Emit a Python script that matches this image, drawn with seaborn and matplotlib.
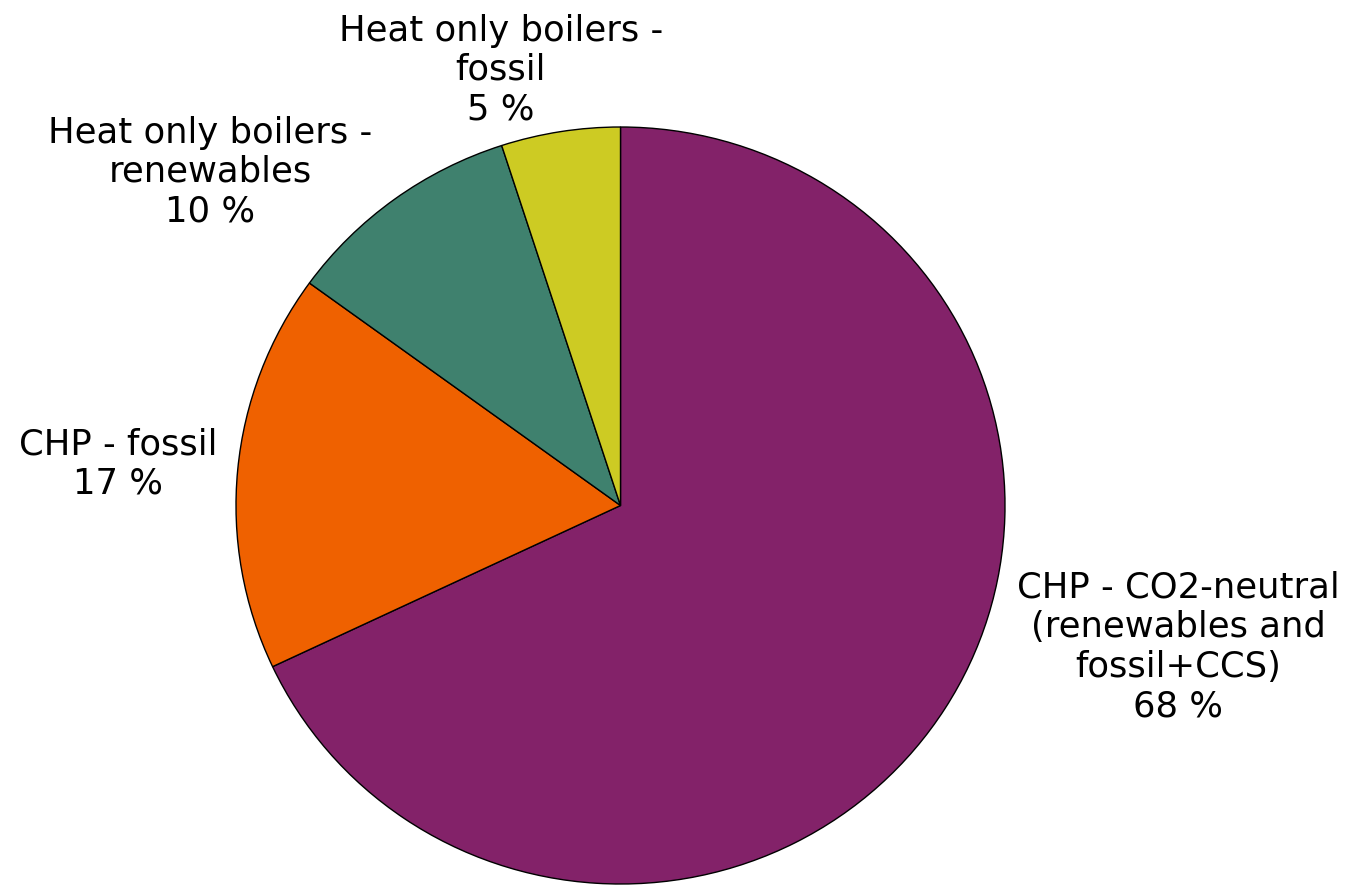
import matplotlib
matplotlib.use("Agg")
import matplotlib.pyplot as plt
import seaborn as sns

categories = [
    "CHP - CO2-neutral\n(renewables and\nfossil+CCS)",
    "CHP - fossil",
    "Heat only boilers -\nrenewables",
    "Heat only boilers -\nfossil",
]
shares = [68, 17, 10, 5]
colors = ["#832269", "#EF6100", "#3F816E", "#CDCB23"]

sns.set_theme(style="white")
plt.rcParams["font.family"] = ["DejaVu Sans"]

W, H = 1353, 887
fig = plt.figure(figsize=(W / 100, H / 100), dpi=100)
ax = fig.add_axes([0, 0, 1, 1])

# the pie is drawn slightly flattened: vertical scale factor k
rx, ry = 384.5, 378.5
k = rx / ry
cx, cy = 620.5, 506.5
ax.pie(
    shares,
    colors=colors,
    startangle=90,
    counterclock=False,
    center=(cx, (H - cy) * k),
    radius=rx,
    wedgeprops=dict(edgecolor="black", linewidth=1.0),
)
ax.set_xlim(0, W)
ax.set_ylim(0, H * k)
ax.set_aspect("auto")
ax.axis("off")

# label anchors (pixel space, measured from the top-left)
label_pos = [(1178, 647), (118, 464), (210, 172), (501, 70)]
for name, val, (lx, ly) in zip(categories, shares, label_pos):
    ax.text(lx, (H - ly) * k, f"{name}\n{val} %", ha="center", va="center",
            fontsize=25.5, color="black", linespacing=1.2)

fig.savefig("out.png", dpi=100)
